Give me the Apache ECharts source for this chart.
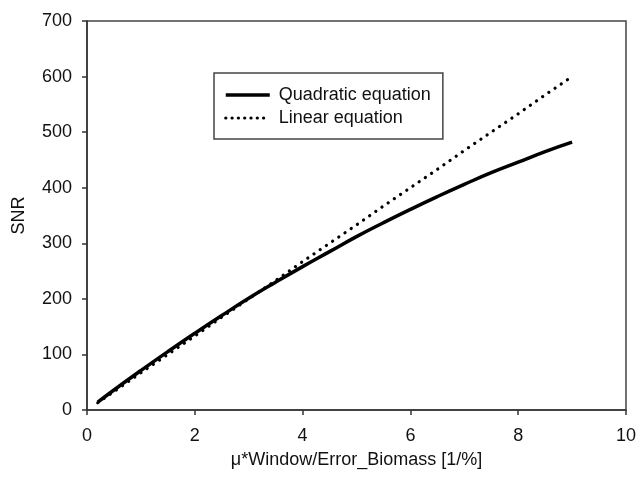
<!DOCTYPE html>
<html>
<head>
<meta charset="utf-8">
<script src="https://cdn.jsdelivr.net/npm/echarts@6/dist/echarts.min.js"></script>
<style>
  html, body { margin: 0; padding: 0; background: #fff; }
  #main { width: 639px; height: 480px; }
</style>
</head>
<body>
<div id="main"></div>
<script>
// data
var xValues = [0.2, 0.5, 1, 1.5, 2, 2.5, 3, 3.5, 4, 4.5, 5, 5.5, 6, 6.5, 7, 7.5, 8, 8.5, 9];
var quadraticSNR = [14, 36, 71, 105, 138, 170, 201, 230, 258, 285, 312, 337, 361, 384, 406, 427, 446, 465, 482];
var linearSNR = [13, 33, 67, 100, 133, 167, 200, 233, 267, 300, 333, 367, 400, 433, 467, 500, 533, 567, 600];
var seriesNames = ['Quadratic equation', 'Linear equation'];

var axisColor = '#333';
var font = 'Liberation Sans, Arial, sans-serif';

var solidStyle = { color: '#000', width: 3.5 };
var dotStyle = { color: '#000', width: 3.2, type: [0.1, 7.4], cap: 'round' };

function pairs(xs, ys) {
    var out = [];
    for (var i = 0; i < xs.length; i++) {
        out.push([xs[i], ys[i]]);
    }
    return out;
}

var myChart = echarts.init(document.getElementById('main'));

var option = {
    animation: false,
    backgroundColor: '#fff',
    grid: {
        left: 87,
        right: 12,
        top: 21,
        bottom: 70,
        show: true,
        borderColor: '#444',
        borderWidth: 1.5,
        containLabel: false
    },
    legend: {
        orient: 'vertical',
        left: 214,
        top: 73,
        padding: [13, 12, 12, 10],
        itemGap: 5,
        itemWidth: 44,
        itemHeight: 14,
        borderColor: '#444',
        borderWidth: 1.5,
        itemStyle: { opacity: 0 },
        textStyle: { fontFamily: font, fontSize: 18, lineHeight: 18, color: '#111', padding: [0, 0, 0, 4] },
        data: [
            { name: seriesNames[0], lineStyle: { color: '#000', width: 3.5 } },
            { name: seriesNames[1], lineStyle: { color: '#000', width: 3.2, type: [0.1, 6.2], cap: 'round' } }
        ]
    },
    xAxis: {
        type: 'value',
        min: 0,
        max: 10,
        interval: 2,
        name: 'μ*Window/Error_Biomass [1/%]',
        nameLocation: 'middle',
        nameGap: 41,
        nameTextStyle: { fontFamily: font, fontSize: 18, color: '#111' },
        axisLine: { lineStyle: { color: axisColor, width: 1.5 } },
        axisTick: { show: true, inside: false, length: 5, lineStyle: { color: axisColor, width: 1.5 } },
        axisLabel: { fontFamily: font, fontSize: 18, color: '#111', margin: 17 },
        splitLine: { show: false }
    },
    yAxis: {
        type: 'value',
        min: 0,
        max: 700,
        interval: 100,
        name: 'SNR',
        nameLocation: 'middle',
        nameGap: 59,
        nameTextStyle: { fontFamily: font, fontSize: 18, color: '#111' },
        axisLine: { show: true, lineStyle: { color: axisColor, width: 1.5 } },
        axisTick: { show: true, inside: false, length: 5, lineStyle: { color: axisColor, width: 1.5 } },
        axisLabel: { fontFamily: font, fontSize: 18, color: '#111', margin: 15 },
        splitLine: { show: false }
    },
    series: [
        {
            name: seriesNames[0],
            type: 'line',
            data: pairs(xValues, quadraticSNR),
            smooth: true,
            symbol: 'none',
            lineStyle: solidStyle,
            itemStyle: { color: '#000' },
            z: 3
        },
        {
            name: seriesNames[1],
            type: 'line',
            data: pairs(xValues, linearSNR),
            symbol: 'none',
            lineStyle: dotStyle,
            itemStyle: { color: '#000' },
            z: 2
        }
    ]
};

myChart.setOption(option, true);
</script>
</body>
</html>
